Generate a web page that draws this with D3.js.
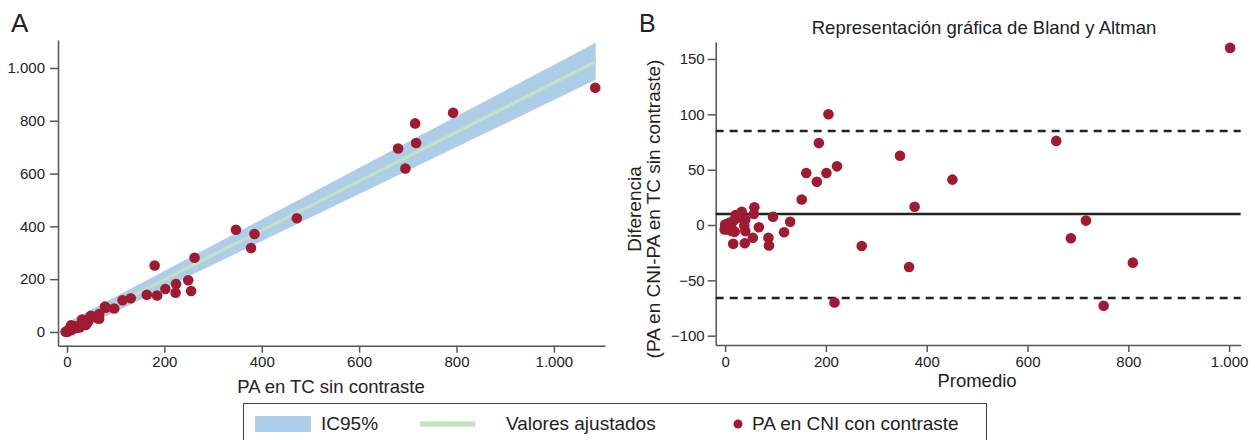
<!DOCTYPE html>
<html lang="es">
<head>
<meta charset="utf-8">
<title>PA: regresión y Bland-Altman</title>
<style>
    body { margin: 0; background: #fff; }
    svg text { font-family: Arial, "Liberation Sans", sans-serif; fill: #222; }
    .axis path, .axis line { fill: none; stroke: #555; stroke-width: 1.5px; }
    .axis text { font-size: 15px; fill: #222; }
</style>
</head>
<body>
<svg width="1255" height="440"></svg>
<script src="https://cdn.jsdelivr.net/npm/d3@7"></script>
<script>
    // ---- datos ----
    // Panel A: dispersión
    const paTC  = [1085, 255, 223, 695, 378, 249, 224, 185, 202, 472, 164, 385, 717, 680, 262,
                   347, 793, 180, 715, 131, 114, 97, 80, 78, 66, 66, 62, 49, 31, 8,
                   39, 43, 37, 38, 26, 19, 12, 10, 16, 0, -3, 4, 28, 9, 2];
    const paCNI = [925, 155, 149, 619, 318, 196, 182, 138, 163, 431, 141, 371, 716, 695, 281,
                   387, 830, 252, 790, 128, 120, 89, 92, 96, 68, 50, 52, 61, 47, 25,
                   27, 38, 43, 38, 17, 15, 12, 16, 22, 0, 1, 6, 22, 7, 6];

    // recta ajustada e IC95% (extremos)
    const ajusteX   = [0, 1086];
    const ajusteY   = [12, 1024];
    const ic95Inf   = [-12, 955];
    const ic95Sup   = [36, 1096];

    // Panel B: Bland y Altman
    const promedio   = [1002, 205, 186, 657, 347, 222, 201, 161, 182, 451, 152, 376, 716, 686, 271,
                        365, 809, 217, 751, 129, 117, 95, 86, 87, 67, 58, 57, 55, 39, 16,
                        33, 40, 40, 38, 21, 17, 12, 13, 19, 0, -1, 5, 25, 8, 4];
    const diferencia = [160, 100, 74, 76, 62.5, 53, 47, 47, 39, 41, 23, 16.5, 4, -12, -19,
                        -38, -34, -70, -73, 3, -6.5, 7.5, -11.5, -18.5, -2, 16, 10, -11.5, -16.5, -17,
                        12, 5, -5.5, -0.5, 9, 4, 0, -5.5, -6, 0.5, -4, -2.5, 6.5, 2, -4];
    const mediaDif = 9.9;
    const limites  = [84.9, -66];

    const ticksA  = [0, 200, 400, 600, 800, 1000];
    const ticksBx = [0, 200, 400, 600, 800, 1000];
    const ticksBy = [-100, -50, 0, 50, 100, 150];

    // colores
    const colBanda = "#aecde9";
    const colAjuste = "#c4e2c0";
    const colPunto = "#9e1b32";

    // formato con punto de miles
    const loc = d3.formatLocale({decimal: ",", thousands: ".", grouping: [3], currency: ["", "€"], minus: "\u2212"});
    const fmt = loc.format(",d");

    const svg = d3.select("svg");

    // ================= Panel A =================
    const xA = d3.scaleLinear().domain([-18.5, 1105]).range([58, 605]);
    const yA = d3.scaleLinear().domain([-52, 1106]).range([345.7, 40]);

    const gA = svg.append("g");

    gA.append("g")
        .attr("class", "axis")
        .attr("transform", "translate(0," + 345.7 + ")")
        .call(d3.axisBottom(xA).tickValues(ticksA).tickFormat(fmt).tickSize(7).tickSizeOuter(0).tickPadding(4));

    gA.append("g")
        .attr("class", "axis")
        .attr("transform", "translate(58,0)")
        .call(d3.axisLeft(yA).tickValues(ticksA).tickFormat(fmt).tickSize(8).tickSizeOuter(0).tickPadding(5));

    // banda IC95%
    const banda = ajusteX.map((x, i) => ({x: x, lo: ic95Inf[i], hi: ic95Sup[i]}));
    gA.append("path")
        .datum(banda)
        .attr("fill", colBanda)
        .attr("d", d3.area().x(d => xA(d.x)).y0(d => yA(d.lo)).y1(d => yA(d.hi)));

    // valores ajustados
    gA.append("path")
        .datum(ajusteX.map((x, i) => [x, ajusteY[i]]))
        .attr("fill", "none")
        .attr("stroke", colAjuste)
        .attr("stroke-width", 3.2)
        .attr("d", d3.line().x(d => xA(d[0])).y(d => yA(d[1])));

    gA.selectAll("circle")
        .data(paTC.map((x, i) => [x, paCNI[i]]))
        .enter()
        .append("circle")
        .attr("cx", d => xA(d[0]))
        .attr("cy", d => yA(d[1]))
        .attr("r", 5.3)
        .attr("fill", colPunto);

    gA.append("text").attr("x", 11).attr("y", 32).style("font-size", "26px").text("A");
    gA.append("text").attr("x", 331).attr("y", 393).attr("text-anchor", "middle")
        .style("font-size", "18.5px").text("PA en TC sin contraste");

    // ================= Panel B =================
    const xB = d3.scaleLinear().domain([-18.7, 1023]).range([715.7, 1240.7]);
    const yB = d3.scaleLinear().domain([-108.4, 165.6]).range([345, 41.7]);

    const gB = svg.append("g");

    gB.append("g")
        .attr("class", "axis")
        .attr("transform", "translate(0,345)")
        .call(d3.axisBottom(xB).tickValues(ticksBx).tickFormat(fmt).tickSize(7).tickSizeOuter(0).tickPadding(4));

    gB.append("g")
        .attr("class", "axis")
        .attr("transform", "translate(715.7,0)")
        .call(d3.axisLeft(yB).tickValues(ticksBy).tickFormat(fmt).tickSize(8).tickSizeOuter(0).tickPadding(3));

    // media y límites de concordancia
    gB.append("line")
        .attr("x1", xB.range()[0]).attr("x2", xB.range()[1])
        .attr("y1", yB(mediaDif)).attr("y2", yB(mediaDif))
        .attr("stroke", "#222").attr("stroke-width", 2.6);

    gB.selectAll(".limite")
        .data(limites)
        .enter()
        .append("line")
        .attr("class", "limite")
        .attr("x1", xB.range()[0]).attr("x2", xB.range()[1])
        .attr("y1", d => yB(d)).attr("y2", d => yB(d))
        .attr("stroke", "#222").attr("stroke-width", 2.6)
        .attr("stroke-dasharray", "8,6");

    gB.selectAll("circle")
        .data(promedio.map((x, i) => [x, diferencia[i]]))
        .enter()
        .append("circle")
        .attr("cx", d => xB(d[0]))
        .attr("cy", d => yB(d[1]))
        .attr("r", 5.3)
        .attr("fill", colPunto);

    gB.append("text").attr("x", 639).attr("y", 32).style("font-size", "25px").text("B");
    gB.append("text").attr("x", 984).attr("y", 34).attr("text-anchor", "middle")
        .style("font-size", "18.5px").text("Representación gráfica de Bland y Altman");
    gB.append("text").attr("x", 977).attr("y", 387).attr("text-anchor", "middle")
        .style("font-size", "18.5px").text("Promedio");

    const yLab = gB.append("text")
        .attr("transform", "translate(641,209) rotate(-90)")
        .attr("text-anchor", "middle")
        .style("font-size", "19px");
    yLab.append("tspan").attr("x", 0).attr("y", 0).text("Diferencia");
    yLab.append("tspan").attr("x", 0).attr("y", 19).text("(PA en CNI-PA en TC sin contraste)");

    // ================= Leyenda =================
    const leg = svg.append("g");
    leg.append("rect")
        .attr("x", 243.5).attr("y", 403.5).attr("width", 743).attr("height", 50)
        .attr("fill", "none").attr("stroke", "#444").attr("stroke-width", 1);

    leg.append("rect").attr("x", 255).attr("y", 416).attr("width", 56).attr("height", 16).attr("fill", colBanda);
    leg.append("text").attr("x", 321).attr("y", 430).style("font-size", "19px").text("IC95%");

    leg.append("line").attr("x1", 420).attr("x2", 475).attr("y1", 424).attr("y2", 424)
        .attr("stroke", colAjuste).attr("stroke-width", 5);
    leg.append("text").attr("x", 506).attr("y", 430).style("font-size", "19px").text("Valores ajustados");

    leg.append("circle").attr("cx", 738).attr("cy", 424).attr("r", 4.5).attr("fill", colPunto);
    leg.append("text").attr("x", 752).attr("y", 430).style("font-size", "19px").text("PA en CNI con contraste");
</script>
</body>
</html>
